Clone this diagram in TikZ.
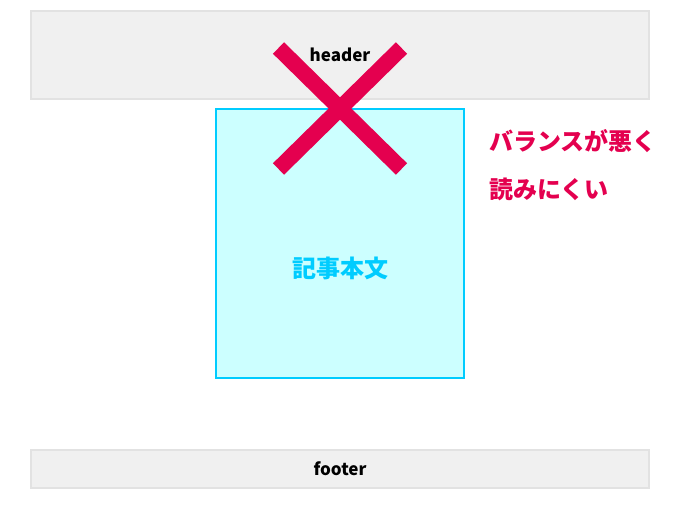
\documentclass[tikz,border=0pt]{standalone}
\usepackage{fontspec}
\setmainfont{Noto Sans CJK JP}
\definecolor{ngred}{HTML}{E4004F}
\definecolor{bodycyan}{HTML}{00CCFF}
\definecolor{bodyfill}{HTML}{CCFFFF}
\definecolor{barfill}{HTML}{F0F0F0}
\definecolor{barline}{HTML}{E2E2E2}
\tikzset{
  bar/.style={draw=barline,line width=2pt,fill=barfill,minimum width=618pt,inner sep=0pt,font=\bfseries\fontsize{17}{17}\selectfont},
  note/.style={anchor=west,inner sep=0pt,text=ngred,font=\bfseries\fontsize{24}{24}\selectfont}
}

\begin{document}
\begin{tikzpicture}[x=1pt,y=-1pt]

\useasboundingbox[fill=white] (0,0) rectangle (680,510);

% header and footer
\node[bar,minimum height=88pt] (header) at (340,55) {header};
\node[bar,minimum height=38pt] (footer) at (340,469) {footer};

% article body
\node[draw=bodycyan,line width=1.5pt,fill=bodyfill,minimum width=248pt,minimum height=269pt] (body) at (340,243.5) {};
\node[text=bodycyan,font=\bfseries\fontsize{24}{24}\selectfont] (bodytext) at (340,268) {記事本文};

% the cross
\draw[ngred,line width=16pt] (278.5,48) -- (401.5,169);
\draw[ngred,line width=16pt] (401.5,48) -- (278.5,169);

\node[note] (bad) at (489,141) {バランスが悪く};
\node[note] (hard) at (489,189) {読みにくい};
\end{tikzpicture}
\end{document}
